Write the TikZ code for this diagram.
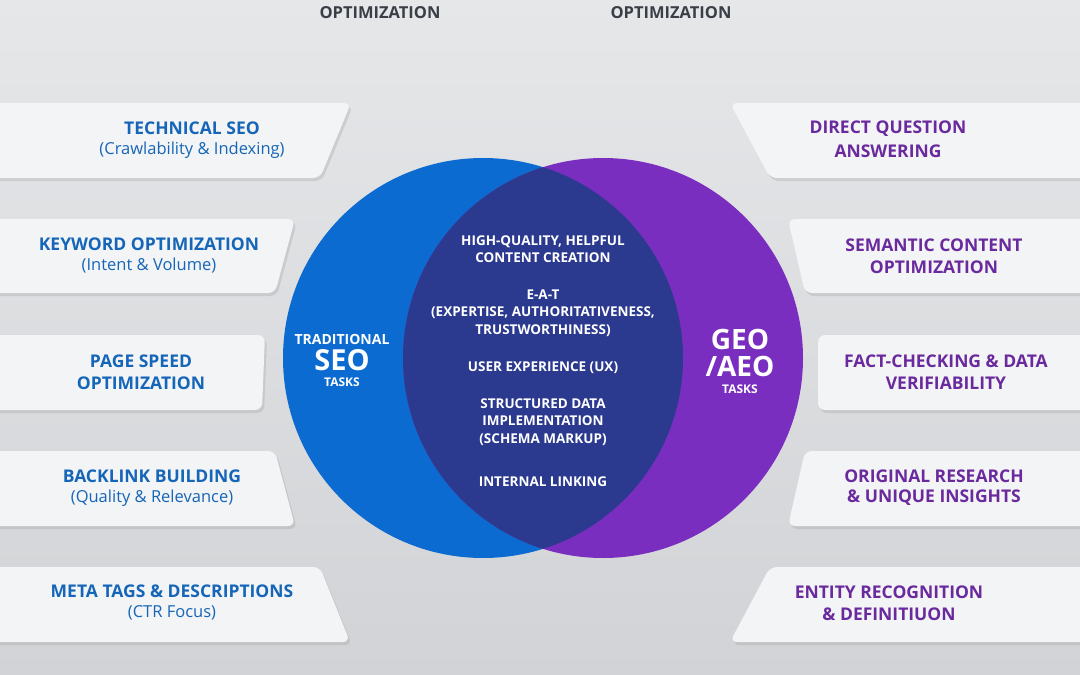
\documentclass[tikz,border=0pt]{standalone}
\usepackage{fontspec}
\setmainfont{Open Sans}
\usetikzlibrary{shadows}
\definecolor{bgA}{HTML}{E6E7E9}
\definecolor{bgB}{HTML}{D2D3D6}
\definecolor{cardc}{HTML}{F3F4F5}
\definecolor{seoblue}{HTML}{0B6BD0}
\definecolor{geopurple}{HTML}{7A2EC0}
\definecolor{navy}{HTML}{2B3A8E}
\definecolor{ltxt}{HTML}{1565B8}
\definecolor{rtxt}{HTML}{6A2A9E}
\definecolor{toptxt}{HTML}{3A3F47}
\tikzset{
  card/.style={fill=cardc, rounded corners=7pt, drop shadow={shadow xshift=2pt, shadow yshift=-3pt, fill=black!35, opacity=.35}},
  ttl/.style={font=\fontsize{17.5}{20}\selectfont\bfseries, align=center},
  sub/.style={font=\fontsize{16.5}{20}\selectfont, align=center},
  mid/.style={font=\fontsize{13.5}{17.5}\selectfont\bfseries, text=white, align=center},
}
\begin{document}
\begin{tikzpicture}[x=1pt,y=-1pt]
\useasboundingbox (0,0) rectangle (1080,675);
\shade[top color=bgA, bottom color=bgB] (0,0) rectangle (1080,675);
\node[font=\fontsize{16.5}{18}\selectfont\bfseries, text=toptxt] (t1) at (380,13) {OPTIMIZATION};
\node[font=\fontsize{16.5}{18}\selectfont\bfseries, text=toptxt] (t2) at (671,13) {OPTIMIZATION};
% left cards
\foreach \t/\b/\rt/\rb in {103/178/351/320, 219/293/295/275, 335/410/265/262, 451/526/275/295, 567/642/320/350}{
  \path[card] (-10,\t) -- (\rt,\t) -- (\rb,\b) -- (-10,\b) -- cycle;
}
\foreach \t/\b/\lt/\lb in {103/178/730/770, 219/293/788/805, 335/410/818/818, 451/526/805/788, 567/642/770/730}{
  \path[card] (1090,\t) -- (\lt,\t) -- (\lb,\b) -- (1090,\b) -- cycle;
}
% circles
\fill[seoblue] (483,358) circle (200);
\fill[geopurple] (603,358) circle (200);
\begin{scope}
  \clip (483,358) circle (200);
  \fill[navy] (603,358) circle (200);
\end{scope}
% left texts
\node[ttl, text=ltxt] (l1) at (192,128) {TECHNICAL SEO};
\node[sub, text=ltxt] (l1s) at (192,150) {(Crawlability \& Indexing)};
\node[ttl, text=ltxt] (l2) at (149,244) {KEYWORD OPTIMIZATION};
\node[sub, text=ltxt] (l2s) at (149,266) {(Intent \& Volume)};
\node[ttl, text=ltxt] (l3) at (141,361) {PAGE SPEED};
\node[ttl, text=ltxt] (l3b) at (141,383) {OPTIMIZATION};
\node[ttl, text=ltxt] (l4) at (152,476) {BACKLINK BUILDING};
\node[sub, text=ltxt] (l4s) at (152,498) {(Quality \& Relevance)};
\node[ttl, text=ltxt] (l5) at (172,591) {META TAGS \& DESCRIPTIONS};
\node[sub, text=ltxt] (l5s) at (172,613) {(CTR Focus)};
% right texts
\node[ttl, text=rtxt] (r1) at (888,129) {DIRECT QUESTION};
\node[ttl, text=rtxt] (r1b) at (888,151) {ANSWERING};
\node[ttl, text=rtxt] (r2) at (934,245) {SEMANTIC CONTENT};
\node[ttl, text=rtxt] (r2b) at (934,267) {OPTIMIZATION};
\node[ttl, text=rtxt] (r3) at (946,361) {FACT-CHECKING \& DATA};
\node[ttl, text=rtxt] (r3b) at (946,383) {VERIFIABILITY};
\node[ttl, text=rtxt] (r4) at (934,476) {ORIGINAL RESEARCH};
\node[ttl, text=rtxt] (r4b) at (934,498) {\& UNIQUE INSIGHTS};
\node[ttl, text=rtxt] (r5) at (889,592) {ENTITY RECOGNITION};
\node[ttl, text=rtxt] (r5b) at (889,614) {\& DEFINITIUON};
% circle labels
\node[font=\fontsize{14}{15}\selectfont\bfseries, text=white] (s1) at (342,339) {TRADITIONAL};
\node[font=\fontsize{29}{30}\selectfont\bfseries, text=white] (s2) at (342,360) {SEO};
\node[font=\fontsize{12}{13}\selectfont\bfseries, text=white] (s3) at (342,382) {TASKS};
\node[font=\fontsize{28}{28}\selectfont\bfseries, text=white] (g1) at (740,339) {GEO};
\node[font=\fontsize{28}{28}\selectfont\bfseries, text=white] (g2) at (740,366) {/AEO};
\node[font=\fontsize{12}{13}\selectfont\bfseries, text=white] (g3) at (740,389) {TASKS};
% centre
\node[mid] (c1) at (543,249) {HIGH-QUALITY, HELPFUL\\CONTENT CREATION};
\node[mid] (c2) at (543,313) {E-A-T\\(EXPERTISE, AUTHORITATIVENESS,\\TRUSTWORTHINESS)};
\node[mid] (c3) at (543,368) {USER EXPERIENCE (UX)};
\node[mid] (c4) at (543,422) {STRUCTURED DATA\\IMPLEMENTATION\\(SCHEMA MARKUP)};
\node[mid] (c5) at (543,482) {INTERNAL LINKING};
\end{tikzpicture}
\end{document}
